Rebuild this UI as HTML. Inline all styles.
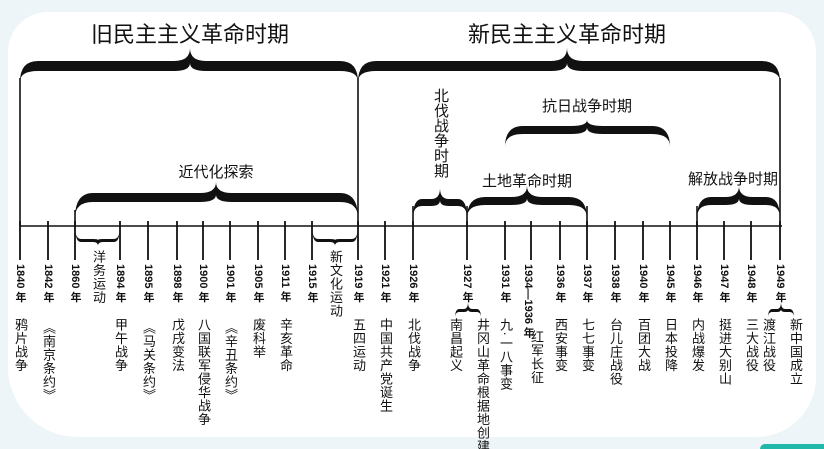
<!DOCTYPE html>
<html><head><meta charset="utf-8">
<style>
html,body{margin:0;padding:0;overflow:hidden;width:824px;height:449px;}
body{background:#eef5f9;position:relative;font-family:"Liberation Sans","Noto Sans CJK SC",sans-serif;}
.card{position:absolute;left:8px;top:12px;width:808px;height:425px;background:#fff;border-radius:40px 40px 60px 70px;}
.teal{position:absolute;left:760px;top:444px;width:64px;height:5px;background:#20b8a8;border-radius:6px 0 0 0;}
svg{position:absolute;left:0;top:0;}
.v{position:absolute;writing-mode:vertical-rl;white-space:nowrap;color:#111;}
.yr{font-size:11px;font-weight:bold;line-height:12px;}
.ev{font-size:13px;line-height:14px;letter-spacing:0.5px;}
.t{position:absolute;white-space:nowrap;color:#111;transform:translateX(-50%);}
</style></head><body>
<div class="card"></div>
<div class="teal"></div>
<svg id="s" width="824" height="449"></svg>
<div class="t" style="left:190px;top:17px;font-size:22px;">旧民主主义革命时期</div>
<div class="t" style="left:567px;top:17px;font-size:22px;">新民主主义革命时期</div>
<div class="t" style="left:216px;top:161px;font-size:15px;">近代化探索</div>
<div class="t" style="left:587px;top:95px;font-size:15px;">抗日战争时期</div>
<div class="t" style="left:527px;top:170px;font-size:15px;">土地革命时期</div>
<div class="t" style="left:733px;top:168px;font-size:15px;">解放战争时期</div>
<div class="v" style="left:432px;top:88px;font-size:15px;line-height:16px;">北伐战争时期</div>
<div id="lab"></div>
<script>
const s=document.getElementById('s');
const NS='http://www.w3.org/2000/svg';
function add(tag,attrs){const e=document.createElementNS(NS,tag);for(const k in attrs)e.setAttribute(k,attrs[k]);s.appendChild(e);}
function line(x1,y1,x2,y2,w){add('line',{x1,y1,x2,y2,stroke:'#111','stroke-width':w||1.6});}
function brace(x1,x2,xm,yt,ya,yb,t){
  const r=Math.min(18,(x2-x1)/6), r2=Math.min(16,(x2-x1)/6);
  const d=`M${x1},${yb} Q${x1},${ya} ${x1+r},${ya} L${xm-r2},${ya} Q${xm},${ya} ${xm},${yt} Q${xm},${ya} ${xm+r2},${ya} L${x2-r},${ya} Q${x2},${ya} ${x2},${yb} Q${x2},${ya+t} ${x2-r},${ya+t} L${xm+r2},${ya+t} Q${xm},${ya+t} ${xm},${ya+t*0.2} Q${xm},${ya+t} ${xm-r2},${ya+t} L${x1+r},${ya+t} Q${x1},${ya+t} ${x1},${yb} Z`;
  add('path',{d,fill:'#111'});
}
line(20,226,782,226,1.6);
const ticks=[20,48,75,120,148,177,203,230,258,285,312,358,385,413,467,505,531,560,587,615,643,670,697,724,751,780];
ticks.forEach(x=>line(x,221,x,260,1.8));
line(20,78,20,226);line(358,78,358,226);line(780,78,780,226);
line(75,210,75,226);line(413,206,413,226);line(467,206,467,226);line(587,206,587,226);line(697,206,697,226);
brace(20,358,190,48,61,82,10);
brace(358,780,567,48,61,82,10);
brace(75,358,216,182,193,218,9);
brace(413,467,440,188,199,218,7);
brace(467,587,527,186,197,218,8);
brace(505,670,587,120,126,147,8);
brace(697,780,739,186,197,218,8);
function braceDown(x1,x2,xm,ytop,ybot,t){
  const r=6;const ya=ybot-t;
  const d=`M${x1},${ytop} Q${x1},${ya+t} ${x1+r},${ya+t} L${xm-5},${ya+t} Q${xm},${ya+t} ${xm},${ybot+4} Q${xm},${ya+t} ${xm+5},${ya+t} L${x2-r},${ya+t} Q${x2},${ya+t} ${x2},${ytop} Q${x2},${ya} ${x2-r},${ya} L${xm+5},${ya} Q${xm},${ya} ${xm},${ya+1} Q${xm},${ya} ${xm-5},${ya} L${x1+r},${ya} Q${x1},${ya} ${x1},${ytop} Z`;
  add('path',{d,fill:'#111'});
}
braceDown(75,120,98,226,242,3);
braceDown(312,358,335,226,242,3);
brace(455,481,468,302,309,318,3);
brace(768,794,781,302,309,318,3);
const lab=document.getElementById('lab');
function v(x,y,txt,cls){const d=document.createElement('div');d.className='v '+cls;d.textContent=txt;d.style.top=y+'px';d.style.left=x+'px';d.style.transform='translateX(-50%)';lab.appendChild(d);}
const yrs=[[20,'1840 年'],[48,'1842 年'],[75,'1860 年'],[120,'1894 年'],[148,'1895 年'],[177,'1898 年'],[203,'1900 年'],[230,'1901 年'],[258,'1905 年'],[285,'1911 年'],[312,'1915 年'],[358,'1919 年'],[385,'1921 年'],[413,'1926 年'],[467,'1927 年'],[505,'1931 年'],[528,'1934—1936 年'],[560,'1936 年'],[587,'1937 年'],[615,'1938 年'],[643,'1940 年'],[670,'1945 年'],[697,'1946 年'],[724,'1947 年'],[751,'1948 年'],[780,'1949 年']];
yrs.forEach(([x,t])=>v(x,264,t,'yr'));
const evs=[[20,318,'鸦片战争'],[48,321,'《南京条约》'],[120,318,'甲午战争'],[148,321,'《马关条约》'],[177,318,'戊戌变法'],[203,318,'八国联军侵华战争'],[230,321,'《辛丑条约》'],[258,318,'废科举'],[285,318,'辛亥革命'],[358,318,'五四运动'],[385,318,'中国共产党诞生'],[413,318,'北伐战争'],[455,318,'南昌起义'],[482,318,'井冈山革命根据地创建'],[505,318,'九·一八事变'],[536,330,'红军长征'],[560,318,'西安事变'],[587,318,'七七事变'],[615,318,'台儿庄战役'],[643,318,'百团大战'],[670,318,'日本投降'],[697,318,'内战爆发'],[724,318,'挺进大别山'],[751,318,'三大战役'],[768,318,'渡江战役'],[795,318,'新中国成立'],[98,250,'洋务运动'],[335,250,'新文化运动']];
evs.forEach(([x,y,t])=>v(x,y,t,'ev'));
</script>
</body></html>
